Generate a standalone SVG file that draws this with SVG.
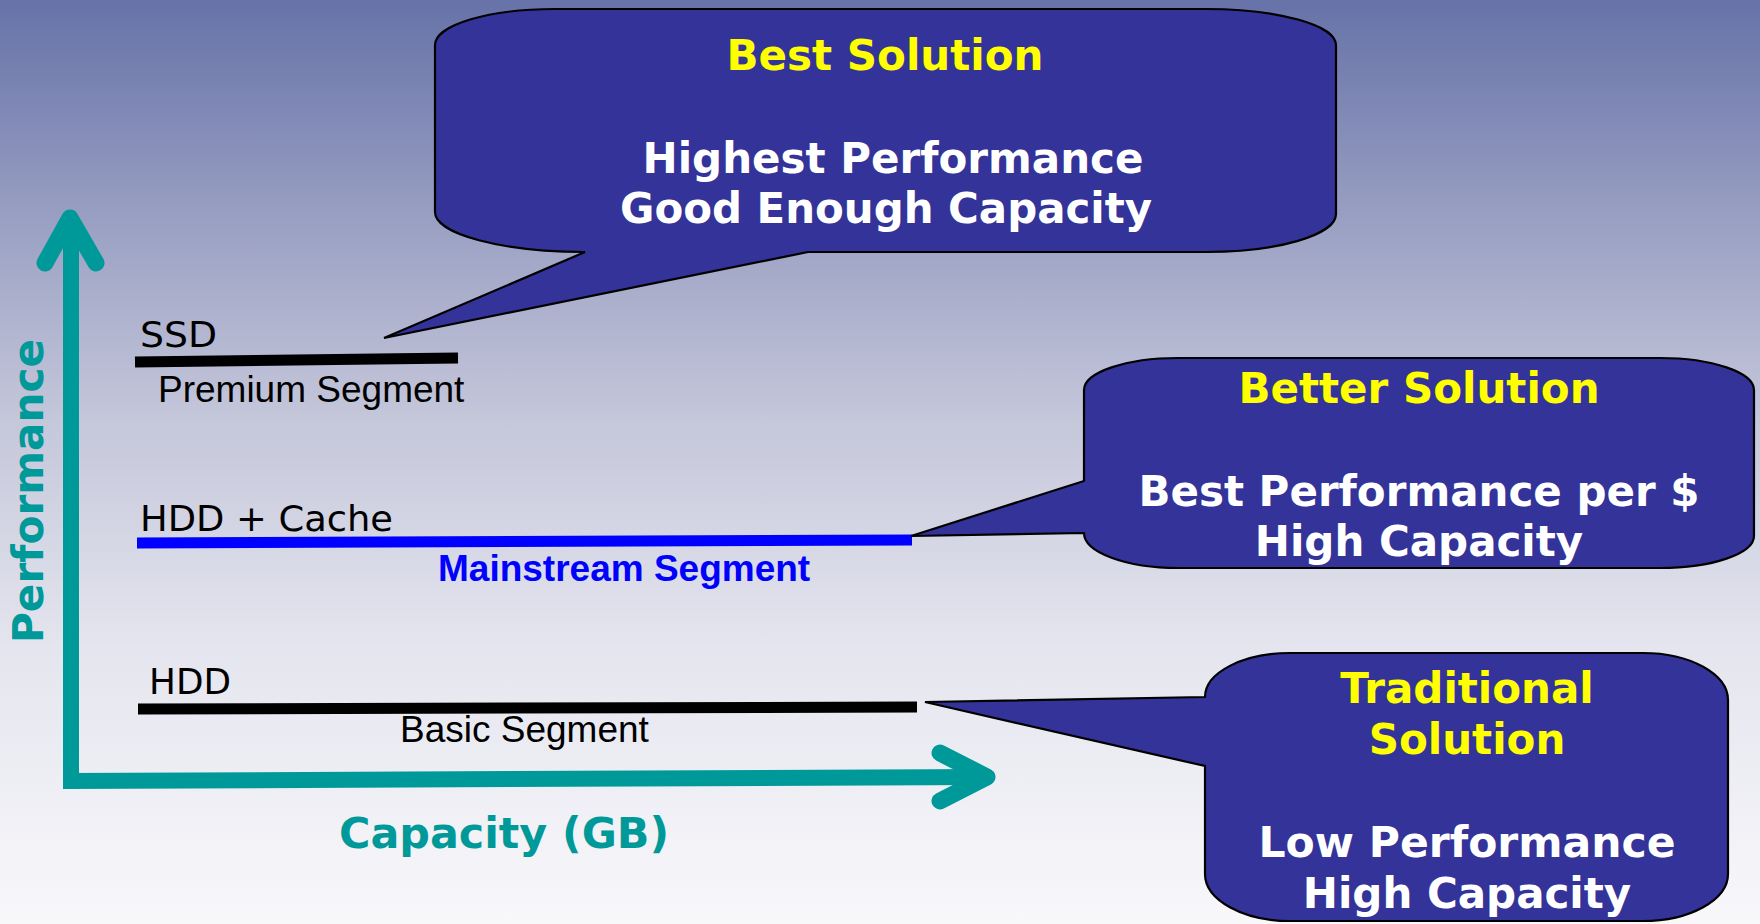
<svg xmlns="http://www.w3.org/2000/svg" width="1760" height="924" viewBox="0 0 1760 924">
  <defs>
    <linearGradient id="bg" x1="0" y1="0" x2="0" y2="1">
      <stop offset="0" stop-color="#6672A8"/>
      <stop offset="0.25" stop-color="#9CA2C4"/>
      <stop offset="0.45" stop-color="#C4C6DA"/>
      <stop offset="0.7" stop-color="#E4E5EE"/>
      <stop offset="1" stop-color="#F8F8FB"/>
    </linearGradient>
    <style>
      .bubble { fill: #333399; stroke: #000000; stroke-width: 2.2; stroke-linejoin: miter; }
      .yt { font-family: "DejaVu Sans", Verdana, sans-serif; font-weight: bold; font-size: 42px; fill: #FFFF00; text-anchor: middle; }
      .wt { font-family: "DejaVu Sans", Verdana, sans-serif; font-weight: bold; font-size: 42px; fill: #FFFFFF; text-anchor: middle; }
      .axis { fill: none; stroke: #009999; stroke-width: 16; }
      .head { fill: none; stroke: #009999; stroke-width: 17; stroke-linecap: round; stroke-linejoin: round; }
      .axlabel { font-family: "DejaVu Sans", Verdana, sans-serif; font-weight: bold; font-size: 42px; fill: #009999; }
      .tech { font-family: "DejaVu Sans", Verdana, sans-serif; font-size: 36px; fill: #000000; }
      .seg { font-family: "Liberation Sans", Arial, sans-serif; font-size: 37px; fill: #000000; }
      .segline { stroke-width: 11; fill: none; }
    </style>
  </defs>
  <rect x="0" y="0" width="1760" height="924" fill="url(#bg)"/>

  <g id="connectors">
    <line class="axis" x1="71" y1="222" x2="71" y2="789"/>
    <polyline class="head" points="45,263 70,218 96,263"/>
    <line class="axis" x1="63" y1="781" x2="984" y2="777"/>
    <polyline class="head" points="940,753 987,777 940,801"/>
  </g>

  <g id="axis-labels">
    <text class="axlabel" transform="translate(43,643) rotate(-90)" x="0" y="0" textLength="304" lengthAdjust="spacingAndGlyphs">Performance</text>
    <text class="axlabel" x="339" y="848" textLength="330" lengthAdjust="spacingAndGlyphs">Capacity (GB)</text>
  </g>

  <g id="ssd">
    <line class="segline" stroke="#000000" x1="135" y1="362" x2="458" y2="358"/>
    <text class="tech" x="140" y="347" textLength="77" lengthAdjust="spacingAndGlyphs">SSD</text>
    <text class="seg" x="158" y="402">Premium Segment</text>
  </g>

  <g id="hdd-cache">
    <line class="segline" stroke="#0000FF" stroke-width="10" x1="137" y1="543" x2="912" y2="540"/>
    <text class="tech" x="140" y="531" textLength="253" lengthAdjust="spacingAndGlyphs">HDD + Cache</text>
    <text class="seg" x="438" y="581" font-weight="bold" style="fill:#0000FF">Mainstream Segment</text>
  </g>

  <g id="hdd">
    <line class="segline" stroke="#000000" x1="138" y1="709" x2="917" y2="707"/>
    <text class="tech" x="149" y="694" textLength="82" lengthAdjust="spacingAndGlyphs">HDD</text>
    <text class="seg" x="400" y="742">Basic Segment</text>
  </g>

  <g id="best-solution">
    <path class="bubble" d="M 555,9 H 1206 A 130 36 0 0 1 1336,45 V 214 A 130 38 0 0 1 1206,252 H 808 L 384,338 L 585,252 A 150 40 0 0 1 435,212 V 45 A 120 36 0 0 1 555,9 Z"/>
    <text class="yt" x="885" y="70">Best Solution</text>
    <text class="wt" x="893" y="173">Highest Performance</text>
    <text class="wt" x="886" y="223" textLength="532" lengthAdjust="spacingAndGlyphs">Good Enough Capacity</text>
  </g>

  <g id="better-solution">
    <path class="bubble" d="M 1178,358 H 1660 A 94 32 0 0 1 1754,390 V 536 A 94 32 0 0 1 1660,568 H 1178 A 94 35 0 0 1 1084,533 L 911,536 L 1084,481 V 390 A 94 32 0 0 1 1178,358 Z"/>
    <text class="yt" x="1419" y="403">Better Solution</text>
    <text class="wt" x="1419" y="506">Best Performance per $</text>
    <text class="wt" x="1419" y="556">High Capacity</text>
  </g>

  <g id="traditional-solution">
    <path class="bubble" d="M 1290,653 H 1643 A 85 47 0 0 1 1728,700 V 874 A 85 47 0 0 1 1643,921 H 1290 A 85 47 0 0 1 1205,874 V 766 L 925,702 L 1205,697 A 85 44 0 0 1 1290,653 Z"/>
    <text class="yt" x="1467" y="703">Traditional</text>
    <text class="yt" x="1467" y="754">Solution</text>
    <text class="wt" x="1467" y="857" textLength="417" lengthAdjust="spacingAndGlyphs">Low Performance</text>
    <text class="wt" x="1467" y="908">High Capacity</text>
  </g>
</svg>
